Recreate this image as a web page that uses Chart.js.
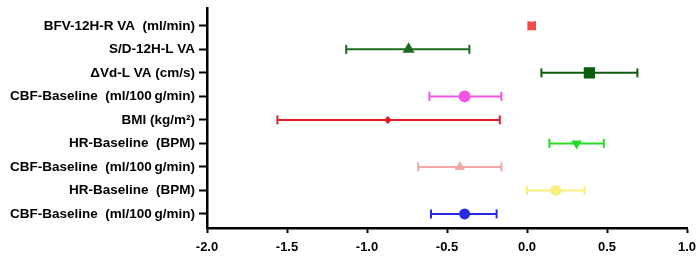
<!DOCTYPE html>
<html>
<head>
<meta charset="utf-8">
<script src="https://cdn.jsdelivr.net/npm/chart.js@4.4.0/dist/chart.umd.min.js"></script>
<style>
  html, body { margin: 0; padding: 0; background: #fff; }
  #wrap { width: 700px; height: 256px; }
</style>
</head>
<body>
<div id="wrap"><canvas id="grafico"></canvas></div>
<script>
// filas de arriba a abajo
const etiquetas = [
  "BFV-12H-R VA  (ml/min)",
  "S/D-12H-L VA",
  "\u0394Vd-L VA (cm/s)",
  "CBF-Baseline  (ml/100\u2009g/min)",
  "BMI (kg/m\u00B2)",
  "HR-Baseline  (BPM)",
  "CBF-Baseline  (ml/100\u2009g/min)",
  "HR-Baseline  (BPM)",
  "CBF-Baseline  (ml/100\u2009g/min)"
];
const estimado = [0.03, -0.74, 0.39, -0.39, -0.87, 0.31, -0.42, 0.18, -0.39];
const inferior = [0.01, -1.13, 0.09, -0.61, -1.56, 0.14, -0.68, 0.00, -0.60];
const superior = [0.05, -0.36, 0.69, -0.16, -0.17, 0.48, -0.16, 0.36, -0.19];
const ticksX = [-2.0, -1.5, -1.0, -0.5, 0.0, 0.5, 1.0];

const colores = ["#f04a4a", "#1d6a1d", "#0e5c0e", "#f056e2", "#e41e2a", "#24dc24", "#f4a6a6", "#f8f07c", "#2a2ae2"];
const formas = ["rect", "triangle", "rect", "circle", "rectRot", "triangle", "triangle", "circle", "circle"];
const giros = [0, 0, 0, 0, 0, 180, 0, 0, 0];
const radios = [6, 7, 8, 6, 4, 6, 6, 5.5, 5.5];

document.addEventListener("DOMContentLoaded", function () {
  grafico();
});

function grafico() {
  const datasets = [];
  // barras de error: dos puntos unidos, con tapas verticales
  etiquetas.forEach((_, i) => {
    datasets.push({
      type: "line",
      data: [{ x: inferior[i], y: i }, { x: superior[i], y: i }],
      borderColor: colores[i],
      borderWidth: 2,
      showLine: true,
      pointStyle: "line",
      rotation: 90,
      pointRadius: 4.5,
      pointBorderWidth: 2,
      pointBorderColor: colores[i],
      pointHoverRadius: 4.5,
    });
  });
  // marcadores
  etiquetas.forEach((_, i) => {
    datasets.push({
      type: "scatter",
      data: [{ x: estimado[i], y: i }],
      pointStyle: formas[i],
      rotation: giros[i],
      pointRadius: radios[i],
      backgroundColor: colores[i],
      borderColor: colores[i],
      borderWidth: 0,
    });
  });

  const fuente = { family: "Liberation Sans, Arial", size: 13.5, weight: "bold" };
  const ctx = document.getElementById("grafico").getContext("2d");
  new Chart(ctx, {
    type: "scatter",
    data: { datasets: datasets },
    options: {
      responsive: true,
      maintainAspectRatio: false,
      animation: false,
      layout: { padding: { top: 8, right: 13, left: 0, bottom: 0 } },
      plugins: { legend: { display: false }, tooltip: { enabled: false } },
      scales: {
        x: {
          type: "linear",
          min: -2,
          max: 1,
          afterBuildTicks: (axis) => { axis.ticks = ticksX.map((v) => ({ value: v })); },
          afterFit: (axis) => {
            axis.height = 28;
            axis.paddingRight = 0;
          },
          border: { color: "#000", width: 2.5 },
          grid: { drawOnChartArea: false, drawTicks: true, tickLength: 5, tickColor: "#000", tickWidth: 2 },
          ticks: {
            color: "#000",
            padding: 7,
            font: { family: "Liberation Sans, Arial", size: 13, weight: "bold" },
            callback: (v) => Number(v).toFixed(1),
          },
        },
        y: {
          type: "linear",
          reverse: true,
          min: -0.76,
          max: 8.6,
          afterBuildTicks: (axis) => { axis.ticks = etiquetas.map((_, i) => ({ value: i })); },
          afterFit: (axis) => {
            axis.width = 207;
            axis.paddingTop = 0;
            axis.paddingBottom = 0;
          },
          border: { color: "#000", width: 2.5 },
          grid: { drawOnChartArea: false, drawTicks: true, tickLength: 8, tickColor: "#000", tickWidth: 2 },
          ticks: {
            color: "#000",
            padding: 4,
            font: fuente,
            callback: (v) => etiquetas[v],
          },
        },
      },
    },
  });
}
</script>
</body>
</html>
